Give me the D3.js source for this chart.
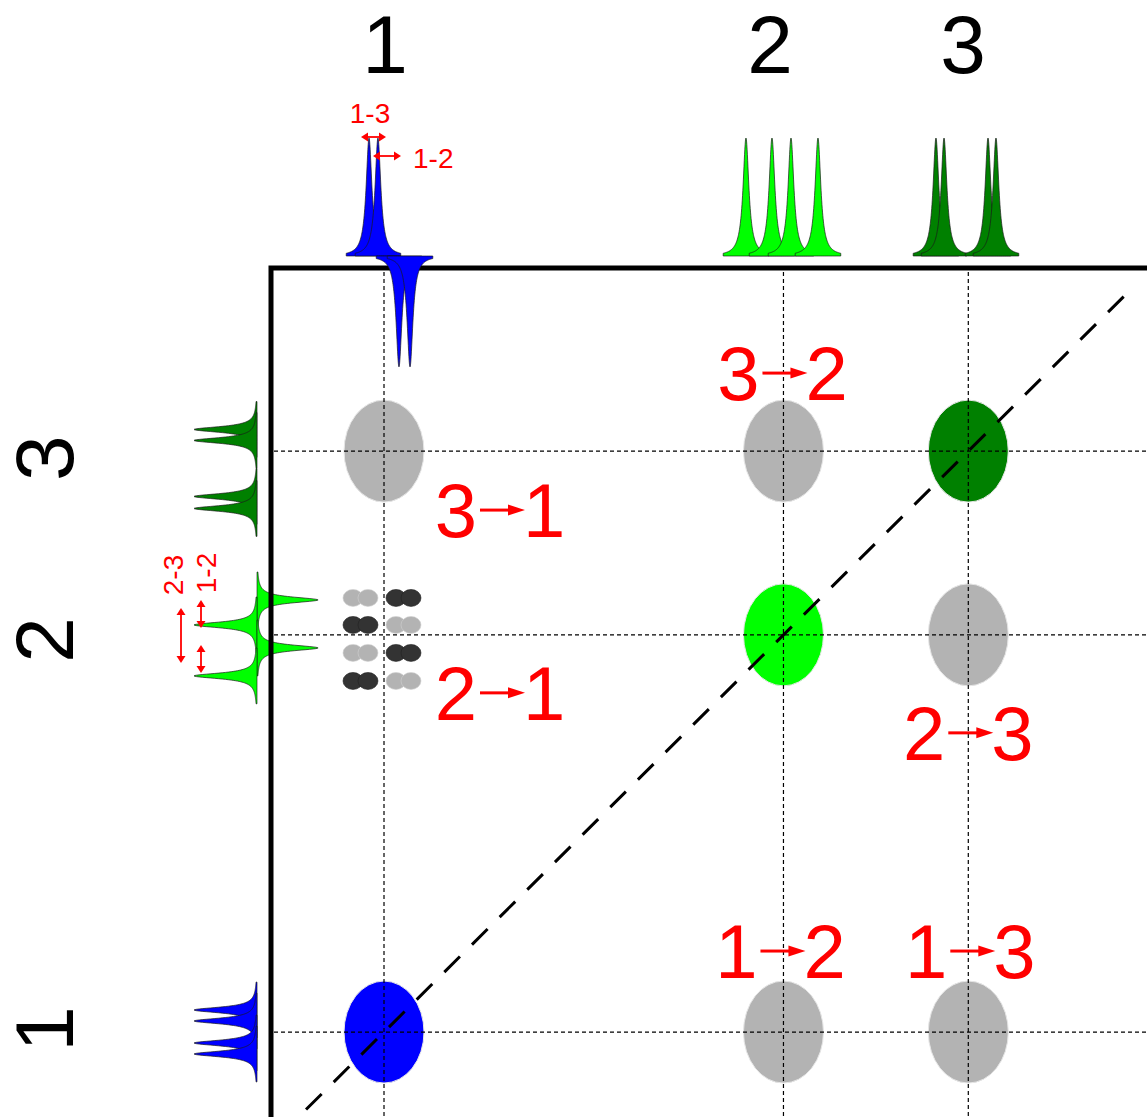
<!DOCTYPE html>
<html>
<head>
<meta charset="utf-8">
<script src="https://cdn.jsdelivr.net/npm/d3@7"></script>
<style>
    html, body { margin: 0; padding: 0; background: #fff; }
    svg { display: block; font-family: "Liberation Sans", Arial, sans-serif; }
</style>
</head>
<body>
<div id="chart"></div>
<script>
"use strict";

// spins, shared by both axes
const spinLabels = ["1", "2", "3"];
const spinShifts = [1.29, 5.85, 7.96];
const spinColors = ["#0000ff", "#00ff00", "#008000"];

// 1D projection on top: line positions and signed intensities per spin
const topPeakPos = [[1.119, 1.221, 1.461, 1.587], [5.422, 5.719, 5.936, 6.244], [7.591, 7.683, 8.185, 8.276]];
const topPeakAmp = [[1, 1, -0.94, -0.94], [1, 1, 1, 1], [1, 1, 1, 1]];

// 1D projection on the left
const sidePeakPos = [[1.543, 1.417, 1.164, 1.038], [6.251, 5.964, 5.700, 5.379], [8.208, 8.082, 7.439, 7.301]];
const sidePeakAmp = [[1, 1, 1, 1], [-0.97, 1, -0.97, 1], [1, 1, 1, 1]];

// cross peaks as [x spin, y spin]
const crossPeaks = [[0, 0], [1, 1], [2, 2], [1, 0], [2, 0], [0, 2], [1, 2], [2, 1]];

// resolved multiplet of the 1/2 cross peak
const fineX = [0.936, 1.107, 1.427, 1.598];
const fineXSign = [1, 1, -1, -1];
const fineY = [6.274, 5.964, 5.643, 5.321];
const fineYSign = [-1, 1, -1, 1];

// transfer labels "from -> to"
const transferFrom = ["3", "3", "2", "2", "1", "1"];
const transferTo = ["1", "2", "1", "3", "2", "3"];

// coupling annotations
const topCouplings = ["1-3", "1-2"];
const sideCouplings = ["2-3", "1-2"];

(function () {
    window.addEventListener("load", init);

    const W = 1147, H = 1117;
    const GRAY = "#b3b3b3", DARK = "#333333", RED = "#ff0000";

    function init() {
        const svg = d3.select("#chart").append("svg")
            .attr("width", W)
            .attr("height", H);

        const x = d3.scaleLinear().domain([0, 10]).range([271, 1147]);
        const y = d3.scaleLinear().domain([0, 10]).range([1144.4, 273.4]);

        addCrossPeaks(svg, x, y);
        addGrid(svg, x, y);
        addSideSpectra(svg, y);
        addFrame(svg);
        addTopSpectra(svg, x);
        addLabels(svg, x, y);
        addTransfers(svg, x, y);
        addCouplings(svg);
    }

    function lorentz(v, v0, w) {
        const t = (v - v0) / w;
        return 1 / (1 + t * t);
    }

    function peakPoints(v0, a, w, reach) {
        return d3.range(v0 - reach, v0 + reach + 0.0001, reach / 80)
            .map(v => ({ v: v, a: a * lorentz(v, v0, w) }));
    }

    function addCrossPeaks(svg, x, y) {
        svg.append("g").selectAll("ellipse")
            .data(crossPeaks)
            .enter()
            .append("ellipse")
            .attr("cx", d => x(spinShifts[d[0]]))
            .attr("cy", d => y(spinShifts[d[1]]))
            .attr("rx", 40)
            .attr("ry", 51)
            .style("fill", d => d[0] === d[1] ? spinColors[d[0]] : GRAY)
            .style("stroke", "#e6e6e6")
            .style("stroke-width", 1);

        // antiphase fine structure, dark = positive, light = negative
        const cells = [];
        fineY.forEach((yv, j) => {
            fineX.forEach((xv, i) => {
                cells.push({ x: xv, y: yv, s: fineXSign[i] * fineYSign[j] });
            });
        });
        svg.append("g").selectAll("ellipse")
            .data(cells)
            .enter()
            .append("ellipse")
            .attr("cx", d => x(d.x))
            .attr("cy", d => y(d.y))
            .attr("rx", 10)
            .attr("ry", 8.5)
            .style("fill", d => d.s > 0 ? DARK : GRAY)
            .style("stroke", d => d.s > 0 ? "#222" : "#d0d0d0")
            .style("stroke-width", 0.6);
    }

    function addGrid(svg, x, y) {
        const g = svg.append("g")
            .style("stroke", "#000")
            .style("stroke-width", 1.2)
            .style("stroke-dasharray", "4,3");

        g.selectAll("line.v")
            .data(spinShifts)
            .enter()
            .append("line")
            .attr("class", "v")
            .attr("x1", d => x(d)).attr("x2", d => x(d))
            .attr("y1", 272).attr("y2", H);

        g.selectAll("line.h")
            .data(spinShifts)
            .enter()
            .append("line")
            .attr("class", "h")
            .attr("x1", 274).attr("x2", W)
            .attr("y1", d => y(d)).attr("y2", d => y(d));

        // diagonal
        svg.append("line")
            .attr("x1", x(0.4)).attr("y1", y(0.4))
            .attr("x2", x(9.8)).attr("y2", y(9.8))
            .style("stroke", "#000")
            .style("stroke-width", 3)
            .style("stroke-dasharray", "22,17");
    }

    function addFrame(svg) {
        svg.append("path")
            .attr("d", "M271," + H + "V268H" + W)
            .style("fill", "none")
            .style("stroke", "#000")
            .style("stroke-width", 5);
    }

    function addTopSpectra(svg, x) {
        const amp = d3.scaleLinear().domain([0, 1]).range([256, 138]);
        const area = d3.area()
            .x(d => x(d.v))
            .y0(amp(0))
            .y1(d => amp(d.a));

        const g = svg.append("g");
        topPeakPos.forEach((list, s) => {
            list.forEach((p, k) => {
                g.append("path")
                    .attr("d", area(peakPoints(p, topPeakAmp[s][k], 0.04, 0.26)))
                    .style("fill", spinColors[s])
                    .style("stroke", "#1a1a1a")
                    .style("stroke-width", 0.7);
            });
        });
    }

    function addSideSpectra(svg, y) {
        const amp = d3.scaleLinear().domain([0, 1]).range([257, 194]);
        const area = d3.area()
            .y(d => y(d.v))
            .x0(amp(0))
            .x1(d => amp(d.a));

        const g = svg.append("g");
        sidePeakPos.forEach((list, s) => {
            list.forEach((p, k) => {
                g.append("path")
                    .attr("d", area(peakPoints(p, sidePeakAmp[s][k], 0.04, 0.32)))
                    .style("fill", spinColors[s])
                    .style("stroke", "#1a1a1a")
                    .style("stroke-width", 0.7);
            });
        });
    }

    function addLabels(svg, x, y) {
        svg.append("g").selectAll("text")
            .data(spinLabels)
            .enter()
            .append("text")
            .attr("x", (d, i) => [385, 770, 963][i])
            .attr("y", 73)
            .attr("text-anchor", "middle")
            .style("font-size", "82px")
            .text(d => d);

        svg.append("g").selectAll("text")
            .data(spinLabels)
            .enter()
            .append("text")
            .attr("transform", (d, i) => "translate(73," + (y(spinShifts[i]) + [-3, 5, 7][i]) + ") rotate(-90)")
            .attr("text-anchor", "middle")
            .style("font-size", "82px")
            .text(d => d);
    }

    function addTransfers(svg, x, y) {
        // label offsets from the cross peak (x = target spin, y = source spin)
        const offsets = [[117, 86], [0, -51], [117, 85], [1, 125], [-2, -54], [3, -54]];
        const g = svg.append("g").style("fill", RED);

        transferFrom.forEach((from, i) => {
            const to = transferTo[i];
            const cx = x(spinShifts[+to - 1]) + offsets[i][0];
            const by = y(spinShifts[+from - 1]) + offsets[i][1];

            g.append("text")
                .attr("x", cx - 24).attr("y", by)
                .attr("text-anchor", "end")
                .style("font-size", "76px")
                .text(from);
            g.append("text")
                .attr("x", cx + 22).attr("y", by)
                .attr("text-anchor", "start")
                .style("font-size", "76px")
                .text(to);

            const ay = by - 27;
            g.append("line")
                .attr("x1", cx - 21).attr("x2", cx + 10)
                .attr("y1", ay).attr("y2", ay)
                .style("stroke", RED)
                .style("stroke-width", 3);
            g.append("path")
                .attr("d", `M${cx + 24},${ay}L${cx + 7},${ay - 5.5}L${cx + 7},${ay + 5.5}Z`);
        });
    }

    function doubleArrow(g, x1, y1, x2, y2) {
        const len = Math.hypot(x2 - x1, y2 - y1);
        const ux = (x2 - x1) / len, uy = (y2 - y1) / len;
        const px = -uy, py = ux;
        const hl = 7, hw = 4.5;
        g.append("line")
            .attr("x1", x1 + ux * 3).attr("y1", y1 + uy * 3)
            .attr("x2", x2 - ux * 3).attr("y2", y2 - uy * 3)
            .style("stroke", RED)
            .style("stroke-width", 1.8);
        [[x1, y1, 1], [x2, y2, -1]].forEach(e => {
            const bx = e[0] + ux * hl * e[2], by = e[1] + uy * hl * e[2];
            g.append("path")
                .attr("d", `M${e[0]},${e[1]}L${bx + px * hw},${by + py * hw}L${bx - px * hw},${by - py * hw}Z`)
                .style("fill", RED);
        });
    }

    function addCouplings(svg) {
        const g = svg.append("g").style("fill", RED);

        g.append("text")
            .attr("x", 370).attr("y", 123)
            .attr("text-anchor", "middle")
            .style("font-size", "28px")
            .text(topCouplings[0]);
        g.append("text")
            .attr("x", 413).attr("y", 168)
            .style("font-size", "28px")
            .text(topCouplings[1]);
        doubleArrow(g, 361, 137, 386, 137);
        doubleArrow(g, 373, 156, 401, 156);

        g.append("text")
            .attr("transform", "translate(183,575) rotate(-90)")
            .attr("text-anchor", "middle")
            .style("font-size", "28px")
            .text(sideCouplings[0]);
        g.append("text")
            .attr("transform", "translate(216,573) rotate(-90)")
            .attr("text-anchor", "middle")
            .style("font-size", "28px")
            .text(sideCouplings[1]);
        doubleArrow(g, 181, 608, 181, 663);
        doubleArrow(g, 201, 600, 201, 628);
        doubleArrow(g, 201, 645, 201, 673);
    }
})();
</script>
</body>
</html>
